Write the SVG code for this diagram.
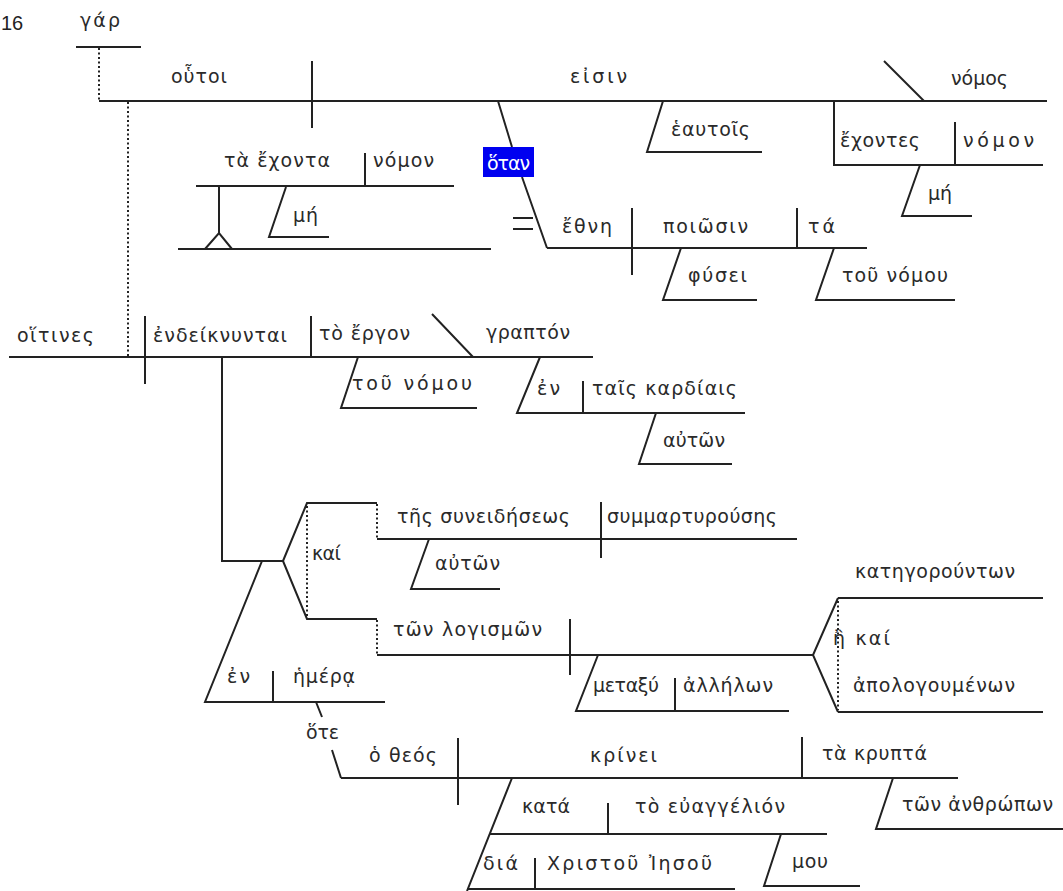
<svg xmlns="http://www.w3.org/2000/svg" width="1063" height="891" viewBox="0 0 1063 891">
<style>
.ln{stroke:#222;stroke-width:2;fill:none}
.dt{stroke:#222;stroke-width:2;fill:none;stroke-dasharray:2 2.5}
.t{font-family:"DejaVu Sans","Noto Sans",sans-serif;font-size:19px;fill:#2a2a2a}
.w{fill:#fff}
</style>
<rect width="1063" height="891" fill="#fff"/>
<text x="1" y="30" style="font-family:'Liberation Sans',sans-serif;font-size:20px;fill:#222">16</text>
<g id="connectors">
<path class="dt" d="M99 48V101"/>
<path class="dt" d="M128 102V357"/>
<path class="ln" d="M498 101L512 147M522 177L547 248"/>
<path class="ln" d="M513 218H533M513 229H533"/>
<path class="ln" d="M222 357V561H283"/>
<path class="ln" d="M283 561L307 503H377M283 561L307 619H377"/>
<path class="dt" d="M307 506V617M377 504V539M377 620V655"/>
<path class="ln" d="M838 598L813 655L838 712"/>
<path class="dt" d="M838 601V710"/>
<path class="ln" d="M316 702L322 717M332 750L341 778"/>
<path class="ln" d="M219 187V233M205 249L219 233L232 249"/>
</g>
<g id="gar"><path class="ln" d="M76 47H141"/><text class="t" x="80" y="27" textLength="40" lengthAdjust="spacing">γάρ</text></g>
<g id="main"><path class="ln" d="M99 101H1047M312 61V128"/>
<text class="t" x="171" y="83" textLength="56" lengthAdjust="spacing">οὗτοι</text>
<text class="t" x="570" y="83" textLength="57" lengthAdjust="spacing">εἰσιν</text></g>
<g id="nomos"><path class="ln" d="M884 61L924 101"/><text class="t" x="951" y="85" textLength="57" lengthAdjust="spacing">νόμος</text></g>
<g id="heautois"><path class="ln" d="M663 101L647 152H762"/><text class="t" x="671" y="136" textLength="79" lengthAdjust="spacing">ἑαυτοῖς</text></g>
<g id="echontes"><path class="ln" d="M834 101V165H1043M955 122V165"/>
<text class="t" x="840" y="147" textLength="80" lengthAdjust="spacing">ἔχοντες</text>
<text class="t" x="963" y="147" textLength="71" lengthAdjust="spacing">νόμον</text></g>
<g id="me2"><path class="ln" d="M920 165L902 216H972"/><text class="t" x="928" y="200" textLength="24" lengthAdjust="spacing">μή</text></g>
<g id="hotan"><rect x="483" y="147" width="51" height="30" fill="#0000f0"/><text class="t w" x="487" y="170" textLength="43" lengthAdjust="spacing">ὅταν</text></g>
<g id="ta-echonta"><path class="ln" d="M196 186H454M365 153V186M178 249H491"/>
<text class="t" x="224" y="167" textLength="106" lengthAdjust="spacing">τὰ ἔχοντα</text>
<text class="t" x="373" y="167" textLength="61" lengthAdjust="spacing">νόμον</text></g>
<g id="me1"><path class="ln" d="M286 187L269 237H329"/><text class="t" x="293" y="222" textLength="25" lengthAdjust="spacing">μή</text></g>
<g id="ethne"><path class="ln" d="M547 248H867M632 208V275M797 208V248"/>
<text class="t" x="562" y="233" textLength="50" lengthAdjust="spacing">ἔθνη</text>
<text class="t" x="663" y="233" textLength="85" lengthAdjust="spacing">ποιῶσιν</text>
<text class="t" x="808" y="233" textLength="27" lengthAdjust="spacing">τά</text></g>
<g id="physei"><path class="ln" d="M681 248L663 300H757"/><text class="t" x="688" y="282" textLength="59" lengthAdjust="spacing">φύσει</text></g>
<g id="tou-nomou1"><path class="ln" d="M834 248L816 300H955"/><text class="t" x="842" y="282" textLength="106" lengthAdjust="spacing">τοῦ νόμου</text></g>
<g id="hoitines"><path class="ln" d="M9 357H593M145 316V384M311 316V357M432 314L473 357"/>
<text class="t" x="17" y="342" textLength="77" lengthAdjust="spacing">οἵτινες</text>
<text class="t" x="153" y="342" textLength="134" lengthAdjust="spacing">ἐνδείκνυνται</text>
<text class="t" x="319" y="340" textLength="91" lengthAdjust="spacing">τὸ ἔργον</text>
<text class="t" x="486" y="339" textLength="84" lengthAdjust="spacing">γραπτόν</text></g>
<g id="tou-nomou2"><path class="ln" d="M358 357L341 408H477"/><text class="t" x="352" y="390" textLength="120" lengthAdjust="spacing">τοῦ νόμου</text></g>
<g id="en-kardiais"><path class="ln" d="M540 357L517 413H745M583 381V413"/>
<text class="t" x="537" y="395" textLength="23" lengthAdjust="spacing">ἐν</text>
<text class="t" x="592" y="395" textLength="145" lengthAdjust="spacing">ταῖς καρδίαις</text></g>
<g id="auton1"><path class="ln" d="M656 413L639 464H732"/><text class="t" x="663" y="447" textLength="62" lengthAdjust="spacing">αὐτῶν</text></g>
<g id="kai"><text class="t" x="312" y="560" textLength="29" lengthAdjust="spacing">καί</text></g>
<g id="syneideseos"><path class="ln" d="M377 539H797M601 502V558"/>
<text class="t" x="397" y="523" textLength="173" lengthAdjust="spacing">τῆς συνειδήσεως</text>
<text class="t" x="607" y="523" textLength="170" lengthAdjust="spacing">συμμαρτυρούσης</text></g>
<g id="auton2"><path class="ln" d="M429 539L411 589H500"/><text class="t" x="435" y="570" textLength="65" lengthAdjust="spacing">αὐτῶν</text></g>
<g id="logismon"><path class="ln" d="M377 655H813M570 619V675"/>
<text class="t" x="393" y="636" textLength="149" lengthAdjust="spacing">τῶν λογισμῶν</text></g>
<g id="metaxy"><path class="ln" d="M598 655L576 711H789M675 678V711"/>
<text class="t" x="593" y="692" textLength="66" lengthAdjust="spacing">μεταξύ</text>
<text class="t" x="683" y="692" textLength="90" lengthAdjust="spacing">ἀλλήλων</text></g>
<g id="kategorounton"><path class="ln" d="M838 598H1043"/><text class="t" x="855" y="578" textLength="160" lengthAdjust="spacing">κατηγορούντων</text></g>
<g id="e-kai"><text class="t" x="833" y="645" textLength="57" lengthAdjust="spacing">ἢ καί</text></g>
<g id="apologoumenon"><path class="ln" d="M838 712H1043"/><text class="t" x="853" y="692" textLength="162" lengthAdjust="spacing">ἀπολογουμένων</text></g>
<g id="en-hemera"><path class="ln" d="M262 561L205 702H385M273 671V702"/>
<text class="t" x="227" y="683" textLength="23" lengthAdjust="spacing">ἐν</text>
<text class="t" x="293" y="683" textLength="62" lengthAdjust="spacing">ἡμέρᾳ</text></g>
<g id="hote"><text class="t" x="306" y="739" textLength="33" lengthAdjust="spacing">ὅτε</text></g>
<g id="krinei"><path class="ln" d="M341 778H958M458 738V805M802 737V778"/>
<text class="t" x="369" y="762" textLength="68" lengthAdjust="spacing">ὁ θεός</text>
<text class="t" x="590" y="762" textLength="67" lengthAdjust="spacing">κρίνει</text>
<text class="t" x="822" y="760" textLength="105" lengthAdjust="spacing">τὰ κρυπτά</text></g>
<g id="anthropon"><path class="ln" d="M893 778L876 829H1063"/><text class="t" x="902" y="811" textLength="151" lengthAdjust="spacing">τῶν ἀνθρώπων</text></g>
<g id="kata"><path class="ln" d="M512 778L467 891M490 834H827M608 803V834"/>
<text class="t" x="522" y="813" textLength="48" lengthAdjust="spacing">κατά</text>
<text class="t" x="635" y="813" textLength="150" lengthAdjust="spacing">τὸ εὐαγγέλιόν</text></g>
<g id="mou"><path class="ln" d="M781 834L764 886H860"/><text class="t" x="792" y="868" textLength="36" lengthAdjust="spacing">μου</text></g>
<g id="dia"><path class="ln" d="M467 889H735M535 858V889"/>
<text class="t" x="483" y="870" textLength="35" lengthAdjust="spacing">διά</text>
<text class="t" x="547" y="870" textLength="165" lengthAdjust="spacing">Χριστοῦ Ἰησοῦ</text></g>
</svg>
